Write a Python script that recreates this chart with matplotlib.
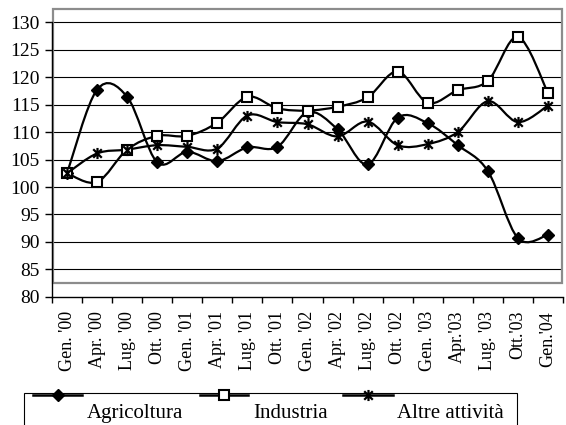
import numpy as np
import matplotlib
matplotlib.use("Agg")
from matplotlib import pyplot as plt
from matplotlib.path import Path
from matplotlib.patches import PathPatch, Rectangle
from matplotlib.lines import Line2D

plt.rcParams['font.family'] = ['Liberation Serif', 'DejaVu Serif']

periodi = ["Gen. '00", "Apr. '00", "Lug. '00", "Ott. '00", "Gen. '01", "Apr. '01",
           "Lug. '01", "Ott. '01", "Gen. '02", "Apr. '02", "Lug. '02", "Ott. '02",
           "Gen. '03", "Apr.'03", "Lug. '03", "Ott.'03", "Gen.'04"]

agricoltura = [102.5, 117.7, 116.4, 104.5, 106.4, 104.7, 107.2, 107.3, 113.6,
               110.5, 104.1, 112.6, 111.6, 107.6, 102.9, 90.7, 91.3]
industria = [102.5, 100.9, 106.8, 109.3, 109.3, 111.7, 116.4, 114.3, 113.9,
             114.6, 116.3, 121.0, 115.3, 117.6, 119.3, 127.3, 117.1]
altre = [102.5, 106.1, 106.8, 107.6, 107.3, 107.0, 113.0, 111.8, 111.4,
         109.2, 111.9, 107.6, 107.8, 110.0, 115.6, 111.8, 114.8]

tick_y = [80, 85, 90, 95, 100, 105, 110, 115, 120, 125, 130]


def smooth_path(xs, ys):
    # bezier smoothing similar to Excel "smoothed line"
    p = np.column_stack([xs, ys]).astype(float)
    n = len(p)
    verts = [p[0]]
    codes = [Path.MOVETO]
    for i in range(n - 1):
        prev = p[i - 1] if i > 0 else p[i]
        nxt = p[i + 2] if i + 2 < n else p[i + 1]
        c1 = p[i] + (p[i + 1] - prev) / 6.0
        c2 = p[i + 1] - (nxt - p[i]) / 6.0
        verts += [c1, c2, p[i + 1]]
        codes += [Path.CURVE4] * 3
    return Path(verts, codes)


# asterisk marker: X plus vertical bar
star = Path([(-1, -1), (1, 1), (-1, 1), (1, -1), (0, -1.3), (0, 1.3)],
            [Path.MOVETO, Path.LINETO, Path.MOVETO, Path.LINETO, Path.MOVETO, Path.LINETO])

W, H = 566, 425
fig = plt.figure(figsize=(W / 100, H / 100), dpi=100)
ax = fig.add_axes([52 / W, 1 - 297 / H, 511 / W, 289 / H])

x = np.arange(len(periodi))
ax.set_xlim(-0.5, len(periodi) - 0.5)
ax.set_ylim(80, 80 + 289 / 5.5)

for v in tick_y[1:]:
    ax.axhline(v, color='black', lw=0.8, zorder=1)

# plot area border (grey)
ax.add_patch(Rectangle((-0.47, 80 + 14 / 5.5), len(periodi) - 0.06, 289 / 5.5 - 14 / 5.5 - 0.1,
                       fill=False, edgecolor='#8c8c8c', lw=1.6, zorder=2, clip_on=False))

series = [
    (agricoltura, dict(marker='D', markersize=6.5, markerfacecolor='black', markeredgecolor='black')),
    (industria, dict(marker='s', markersize=7.5, markerfacecolor='white', markeredgecolor='black',
                     markeredgewidth=1.5)),
    (altre, dict(marker=star, markersize=8, markeredgecolor='black', markeredgewidth=1.6)),
]
for vals, mk in series:
    ax.add_patch(PathPatch(smooth_path(x, vals), fill=False, edgecolor='black', lw=1.6, zorder=3))
    ax.plot(x, vals, linestyle='none', zorder=4, **mk)

for s in ['top', 'right']:
    ax.spines[s].set_visible(False)
ax.spines['left'].set_bounds(80, 130)
ax.spines['left'].set_linewidth(1.0)
ax.spines['bottom'].set_linewidth(1.0)

ax.set_yticks(tick_y)
ax.set_yticklabels([str(v) for v in tick_y], fontsize=14)
ax.tick_params(axis='y', length=5, width=1.0, pad=4, direction='out')

ax.set_xticks(x)
ax.set_xticklabels(periodi, rotation=90, fontsize=13, va='top')
ax.tick_params(axis='x', which='major', length=0, pad=10)
ax.set_xticks(np.arange(-0.5, len(periodi)), minor=True)
ax.tick_params(axis='x', which='minor', length=4.5, width=1.0, direction='out')


def fx(px):
    return px / W


def fy(py):
    return 1 - py / H


# legend box drawn by hand (lines sit on the top border, text below)
fig.add_artist(Rectangle((fx(24), fy(430)), fx(517) - fx(24), fy(393) - fy(430),
                         transform=fig.transFigure, fill=False, edgecolor='black', lw=0.8))
legend_items = [("Agricoltura", 33, 82, 87), ("Industria", 200, 248, 253), ("Altre attività", 343, 393, 397)]
for (label, x0, x1, tx), (vals, mk) in zip(legend_items, series):
    fig.add_artist(Line2D([fx(x0), fx(x1)], [fy(395), fy(395)], transform=fig.transFigure,
                          color='black', lw=1.8))
    fig.add_artist(Line2D([fx((x0 + x1) / 2)], [fy(395)], transform=fig.transFigure,
                          linestyle='none', **mk))
    fig.text(fx(tx), fy(418), label, fontsize=15, ha='left', va='baseline')

fig.savefig('out.png', dpi=100)
